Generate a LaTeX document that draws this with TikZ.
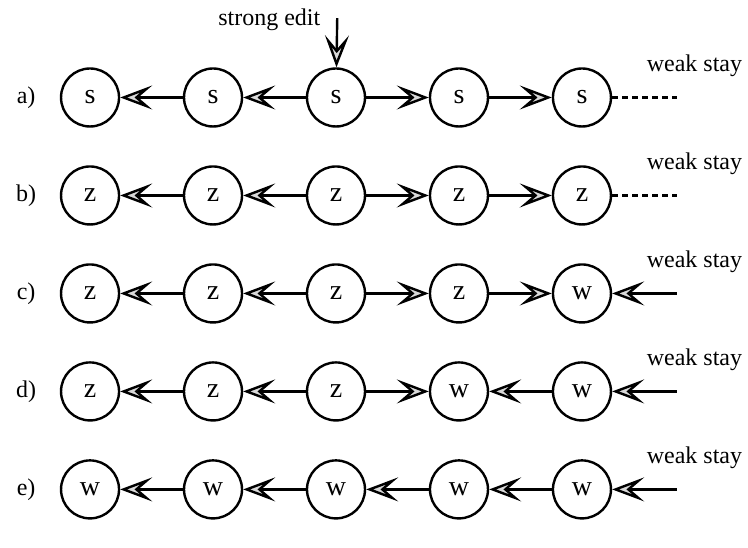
\documentclass[tikz,border=0pt]{standalone}
\usepackage{fontspec}
\setmainfont{Liberation Serif}
\usetikzlibrary{arrows.meta}
\tikzstyle{estado}=[circle, draw, line width=1.2pt, minimum size=29pt, inner sep=0pt, font=\fontsize{14}{16}\selectfont]
\tikzstyle{flecha}=[line width=1.2pt, -{Stealth[length=16pt, width=12pt, inset=7pt, fill=gray!30]}]
\tikzstyle{etiqueta}=[font=\fontsize{12}{14}\selectfont]
\tikzstyle{libre}=[line width=1.1pt, dash pattern=on 3pt off 2pt]

\begin{document}
\begin{tikzpicture}[x=2.1615cm, y=1.722cm]
        \useasboundingbox (-0.732,0.995) rectangle (5.35,-4.597);

        %% Edicion fuerte sobre la variable central
        \node[etiqueta, anchor=east] (edit_txt) at (1.93,0.79) {strong edit};
        \coordinate (edit) at (2.01,0.81);

        %% Fila a)
        \node[etiqueta] (a_lbl) at (-0.52,0) {a)};
        \node[etiqueta, anchor=base west] (a_stay) at (4.47,0.265) {weak stay};
        % Vértices
        \node[estado] (a_1) at (0,0) {s};
        \node[estado] (a_2) at (1,0) {s};
        \node[estado] (a_3) at (2,0) {s};
        \node[estado] (a_4) at (3,0) {s};
        \node[estado] (a_5) at (4,0) {s};
        \coordinate (a_fin) at (4.77,0);
        % Aristas
        \draw[flecha] (edit) -- (a_3);
        \draw[flecha] (a_2) -- (a_1);
        \draw[flecha] (a_3) -- (a_2);
        \draw[flecha] (a_3) -- (a_4);
        \draw[flecha] (a_4) -- (a_5);
        \draw[libre] (a_5) -- (a_fin);

        %% Fila b)
        \node[etiqueta] (b_lbl) at (-0.52,-1) {b)};
        \node[etiqueta, anchor=base west] (b_stay) at (4.47,-0.735) {weak stay};
        % Vértices
        \node[estado] (b_1) at (0,-1) {z};
        \node[estado] (b_2) at (1,-1) {z};
        \node[estado] (b_3) at (2,-1) {z};
        \node[estado] (b_4) at (3,-1) {z};
        \node[estado] (b_5) at (4,-1) {z};
        \coordinate (b_fin) at (4.77,-1);
        % Aristas
        \draw[flecha] (b_2) -- (b_1);
        \draw[flecha] (b_3) -- (b_2);
        \draw[flecha] (b_3) -- (b_4);
        \draw[flecha] (b_4) -- (b_5);
        \draw[libre] (b_5) -- (b_fin);

        %% Fila c)
        \node[etiqueta] (c_lbl) at (-0.52,-2) {c)};
        \node[etiqueta, anchor=base west] (c_stay) at (4.47,-1.735) {weak stay};
        % Vértices
        \node[estado] (c_1) at (0,-2) {z};
        \node[estado] (c_2) at (1,-2) {z};
        \node[estado] (c_3) at (2,-2) {z};
        \node[estado] (c_4) at (3,-2) {z};
        \node[estado] (c_5) at (4,-2) {w};
        \coordinate (c_fin) at (4.77,-2);
        % Aristas
        \draw[flecha] (c_2) -- (c_1);
        \draw[flecha] (c_3) -- (c_2);
        \draw[flecha] (c_3) -- (c_4);
        \draw[flecha] (c_4) -- (c_5);
        \draw[flecha] (c_fin) -- (c_5);

        %% Fila d)
        \node[etiqueta] (d_lbl) at (-0.52,-3) {d)};
        \node[etiqueta, anchor=base west] (d_stay) at (4.47,-2.735) {weak stay};
        % Vértices
        \node[estado] (d_1) at (0,-3) {z};
        \node[estado] (d_2) at (1,-3) {z};
        \node[estado] (d_3) at (2,-3) {z};
        \node[estado] (d_4) at (3,-3) {w};
        \node[estado] (d_5) at (4,-3) {w};
        \coordinate (d_fin) at (4.77,-3);
        % Aristas
        \draw[flecha] (d_2) -- (d_1);
        \draw[flecha] (d_3) -- (d_2);
        \draw[flecha] (d_3) -- (d_4);
        \draw[flecha] (d_5) -- (d_4);
        \draw[flecha] (d_fin) -- (d_5);

        %% Fila e)
        \node[etiqueta] (e_lbl) at (-0.52,-4) {e)};
        \node[etiqueta, anchor=base west] (e_stay) at (4.47,-3.735) {weak stay};
        % Vértices
        \node[estado] (e_1) at (0,-4) {w};
        \node[estado] (e_2) at (1,-4) {w};
        \node[estado] (e_3) at (2,-4) {w};
        \node[estado] (e_4) at (3,-4) {w};
        \node[estado] (e_5) at (4,-4) {w};
        \coordinate (e_fin) at (4.77,-4);
        % Aristas
        \draw[flecha] (e_2) -- (e_1);
        \draw[flecha] (e_3) -- (e_2);
        \draw[flecha] (e_4) -- (e_3);
        \draw[flecha] (e_5) -- (e_4);
        \draw[flecha] (e_fin) -- (e_5);
\end{tikzpicture}
\end{document}
